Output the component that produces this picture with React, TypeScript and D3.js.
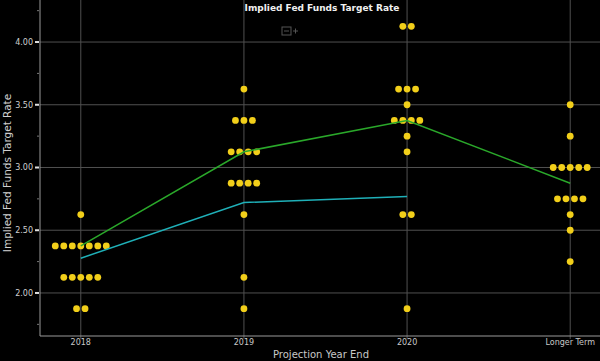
import React from "react";
import * as d3 from "d3";

const categories = ["2018", "2019", "2020", "Longer Term"];

// dot plot groups: [rate, count]
const dots2018 = [[2.625, 1], [2.375, 7], [2.125, 5], [1.875, 2]];
const dots2019 = [[3.625, 1], [3.375, 3], [3.125, 4], [2.875, 4], [2.625, 1], [2.125, 1], [1.875, 1]];
const dots2020 = [[4.125, 2], [3.625, 3], [3.5, 1], [3.375, 4], [3.25, 1], [3.125, 1], [2.625, 2], [1.875, 1]];
const dotsLonger = [[3.5, 1], [3.25, 1], [3.0, 5], [2.75, 4], [2.625, 1], [2.5, 1], [2.25, 1]];
const dotGroups = [dots2018, dots2019, dots2020, dotsLonger];

const medianLine = [2.375, 3.125, 3.375, 2.875];
const impliedLine = [2.277, 2.721, 2.769];

const yTicks = [2.0, 2.5, 3.0, 3.5, 4.0];
const yMinorTicks = [1.75, 2.25, 2.75, 3.25, 3.75, 4.25];

const W = 600;
const H = 361;
const font = "'DejaVu Sans', Verdana, sans-serif";

export default function App() {
  const left = 40;
  const bottom = 336;
  const x = d3.scalePoint<string>().domain(categories).range([left, 611]).padding(0.25);
  const y = d3.scaleLinear().domain([1.657, 4.335]).range([bottom, 0]);
  const spacing = 8.5;

  const line = d3
    .line<number>()
    .x((_, i) => x(categories[i]) as number)
    .y((d) => y(d));

  const dots: { cx: number; cy: number; key: string }[] = [];
  dotGroups.forEach((grp, gi) => {
    const cx0 = x(categories[gi]) as number;
    grp.forEach(([rate, count]) => {
      for (let k = 0; k < count; k++) {
        const off = (k - (count - 1) / 2) * spacing;
        dots.push({ cx: cx0 + off, cy: y(rate), key: `${gi}-${rate}-${k}` });
      }
    });
  });

  return (
    <svg width={W} height={H} style={{ position: "absolute", left: 0, top: 0, background: "#000" }}>
      <rect x={0} y={0} width={W} height={H} fill="#000" />
      {yTicks.map((t) => (
        <line key={"hg" + t} x1={left} x2={W} y1={y(t)} y2={y(t)} stroke="#505050" strokeWidth={1} />
      ))}
      {categories.map((c) => (
        <line key={"vg" + c} x1={x(c)} x2={x(c)} y1={0} y2={bottom + 3} stroke="#505050" strokeWidth={1} />
      ))}
      <line x1={left} x2={left} y1={0} y2={bottom} stroke="#9a9a9a" strokeWidth={1} />
      <line x1={left} x2={W} y1={bottom} y2={bottom} stroke="#9a9a9a" strokeWidth={1} />
      {yTicks.map((t) => (
        <g key={"yt" + t}>
          <line x1={35} x2={39} y1={y(t)} y2={y(t)} stroke="#e0e0e0" strokeWidth={2} />
          <text x={33} y={y(t)} dy="0.35em" textAnchor="end" fill="#d0d0d0" fontSize={8} fontFamily={font}>
            {d3.format(".2f")(t)}
          </text>
        </g>
      ))}
      {yMinorTicks.map((t) => (
        <line key={"ym" + t} x1={37} x2={39} y1={y(t)} y2={y(t)} stroke="#777" strokeWidth={1} />
      ))}
      {categories.map((c) => (
        <text key={"xt" + c} x={x(c)} y={345} textAnchor="middle" fill="#c8c8c8" fontSize={8} fontFamily={font}>
          {c}
        </text>
      ))}
      {dots.map((d) => (
        <circle key={d.key} cx={d.cx} cy={d.cy} r={3.4} fill="#f2cf1a" />
      ))}
      <path d={line(medianLine) || ""} fill="none" stroke="#2aa82a" strokeWidth={1.5} />
      <path d={line(impliedLine) || ""} fill="none" stroke="#1fb0b8" strokeWidth={1.5} />
      <text x={322} y={11} textAnchor="middle" fill="#f0f0f0" fontSize={9} fontWeight="bold" fontFamily={font}>
        Implied Fed Funds Target Rate
      </text>
      <g>
        <rect x={282} y={27} width={9} height={8} fill="none" stroke="#555" strokeWidth={1} />
        <line x1={284} x2={289} y1={31} y2={31} stroke="#555" />
        <line x1={293} x2={298} y1={31} y2={31} stroke="#555" />
        <line x1={295.5} x2={295.5} y1={28.5} y2={33.5} stroke="#555" />
      </g>
      <text x={321} y={358} textAnchor="middle" fill="#c8c8c8" fontSize={10} fontFamily={font}>
        Projection Year End
      </text>
      <text
        transform={`translate(11,173) rotate(-90)`}
        textAnchor="middle"
        fill="#d0d0d0"
        fontSize={10.5}
        fontFamily={font}
      >
        Implied Fed Funds Target Rate
      </text>
    </svg>
  );
}
